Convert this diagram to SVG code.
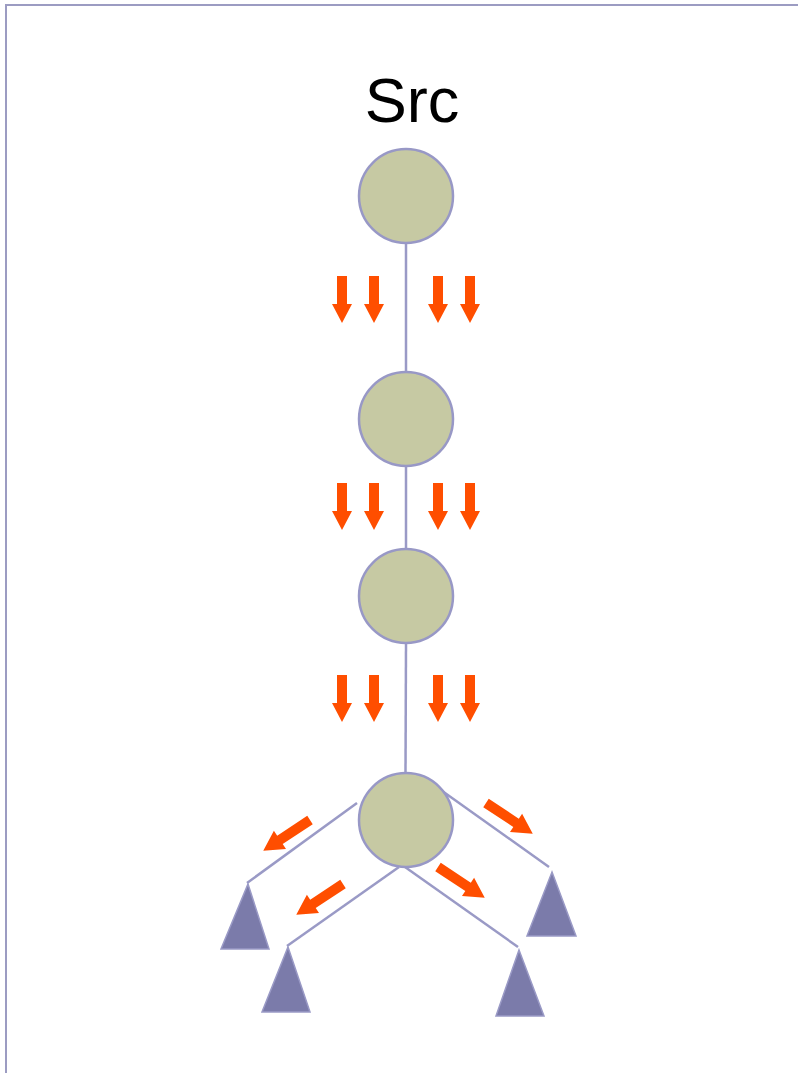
<svg xmlns="http://www.w3.org/2000/svg" width="798" height="1073" viewBox="0 0 798 1073">
<style>
.frame{stroke:#9C9CC2;stroke-width:2;fill:none}
.node{fill:#C6C9A3;stroke:#9898C6;stroke-width:2.5}
.edge{stroke:#9A9AC6;stroke-width:2.5;fill:none}
.tri{fill:#7B7BAA;stroke:#9A9AC6;stroke-width:1.5}
.arr{fill:#FF4E00}
.lbl{font-family:"Liberation Sans",Arial,sans-serif;font-size:63px;fill:#000}
</style>
<defs>
<path id="down" d="M-5,0 H5 V28 H10 L0,47 L-10,28 H-5 Z"/>
<path id="diag" d="M0,-5 H36 V-11 L56,0 L36,11 V5 H0 Z"/>
</defs>
<g id="frame"><path class="frame" d="M6,1073 V5 H798"/></g>
<g id="connectors">
<line class="edge" x1="406" y1="243" x2="406" y2="372"/>
<line class="edge" x1="406" y1="466" x2="406" y2="549"/>
<line class="edge" x1="406" y1="643" x2="405.5" y2="773"/>
<line class="edge" x1="357" y1="803" x2="247" y2="883"/>
<line class="edge" x1="399" y1="867" x2="287" y2="946"/>
<line class="edge" x1="405" y1="867" x2="518" y2="947"/>
<line class="edge" x1="438" y1="788" x2="549" y2="867"/>
</g>
<g id="flow">
<use href="#down" class="arr" x="342" y="276"/><use href="#down" class="arr" x="374" y="276"/><use href="#down" class="arr" x="438" y="276"/><use href="#down" class="arr" x="470" y="276"/>
<use href="#down" class="arr" x="342" y="483"/><use href="#down" class="arr" x="374" y="483"/><use href="#down" class="arr" x="438" y="483"/><use href="#down" class="arr" x="470" y="483"/>
<use href="#down" class="arr" x="342" y="675"/><use href="#down" class="arr" x="374" y="675"/><use href="#down" class="arr" x="438" y="675"/><use href="#down" class="arr" x="470" y="675"/>
<use href="#diag" class="arr" transform="translate(310,820) rotate(146.6)"/>
<use href="#diag" class="arr" transform="translate(343,884) rotate(146.6)"/>
<use href="#diag" class="arr" transform="translate(486,803) rotate(33.4)"/>
<use href="#diag" class="arr" transform="translate(438,867) rotate(33.4)"/>
</g>
<g id="label-src"><text class="lbl" x="412" y="122" text-anchor="middle">Src</text></g>
<g id="n1"><circle class="node" cx="406" cy="196" r="47"/></g>
<g id="n2"><circle class="node" cx="406" cy="419" r="47"/></g>
<g id="n3"><circle class="node" cx="406" cy="596" r="47"/></g>
<g id="n4"><circle class="node" cx="406" cy="820" r="47"/></g>
<g id="t1"><polygon class="tri" points="248,884 269,949 221,949"/></g>
<g id="t2"><polygon class="tri" points="288,947 310,1012 262,1012"/></g>
<g id="t3"><polygon class="tri" points="519,950 544,1016 496,1016"/></g>
<g id="t4"><polygon class="tri" points="552,872 576,936 527,936"/></g>
</svg>
